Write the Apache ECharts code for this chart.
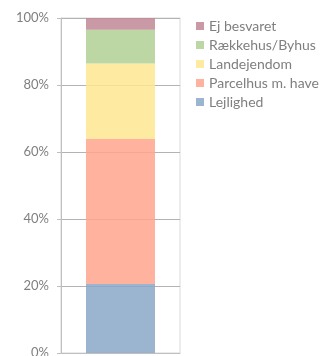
<!DOCTYPE html>
<html>
<head>
<meta charset="utf-8">
<script src="https://cdn.jsdelivr.net/npm/echarts@6/dist/echarts.min.js"></script>
<style>
  html, body { margin: 0; padding: 0; background: #fff; }
  #chart { width: 331px; height: 356px; }
</style>
</head>
<body>
<div id="chart"></div>
<script>
// Boligtype fordeling (andel i procent), stablet nedefra
const categories = ['Boligtype'];
const seriesNames = ['Lejlighed', 'Parcelhus m. have', 'Landejendom', 'Rækkehus/Byhus', 'Ej besvaret'];
const lejlighed = [20.6];
const parcelhus = [43.3];
const landejendom = [22.5];
const raekkehus = [10.1];
const ejBesvaret = [3.5];
const legendOrder = ['Ej besvaret', 'Rækkehus/Byhus', 'Landejendom', 'Parcelhus m. have', 'Lejlighed'];
const yTicks = [0, 20, 40, 60, 80, 100];

const values = [lejlighed, parcelhus, landejendom, raekkehus, ejBesvaret];
const colors = ['#89a7c7', '#ffa68e', '#ffe692', '#b1d094', '#bf8795'];

const chart = echarts.init(document.getElementById('chart'), null, { renderer: 'canvas' });

chart.setOption({
  animation: false,
  grid: {
    left: 61, right: 151, top: 18, bottom: 3,
    outerBoundsMode: 'none',
    containLabel: false,
    show: true, borderColor: '#d9d9d9', borderWidth: 1
  },
  legend: {
    data: legendOrder,
    orient: 'vertical',
    left: 196, top: 19,
    padding: 0,
    itemWidth: 8, itemHeight: 8,
    itemGap: 5,
    icon: 'rect',
    textStyle: { color: '#7f7f7f', fontFamily: 'Lato', fontSize: 14, lineHeight: 14 }
  },
  xAxis: {
    type: 'category',
    data: categories,
    axisLine: { show: true, lineStyle: { color: '#bfbfbf' } },
    axisTick: { show: false },
    axisLabel: { show: false },
    splitLine: { show: false }
  },
  yAxis: {
    type: 'value',
    min: yTicks[0], max: yTicks[yTicks.length - 1], interval: 20,
    axisLine: { show: true, lineStyle: { color: '#bfbfbf' } },
    axisTick: { show: true, length: 4, lineStyle: { color: '#bfbfbf' } },
    axisLabel: {
      color: '#7f7f7f', fontFamily: 'Lato', fontSize: 13, margin: 12,
      formatter: v => v + '%'
    },
    splitLine: { show: true, lineStyle: { color: '#b3b3b3' } }
  },
  series: seriesNames.map((name, i) => ({
    name,
    type: 'bar',
    stack: 'total',
    barWidth: 69,
    data: values[i],
    itemStyle: { color: colors[i], opacity: 0.85 }
  }))
});
</script>
</body>
</html>
